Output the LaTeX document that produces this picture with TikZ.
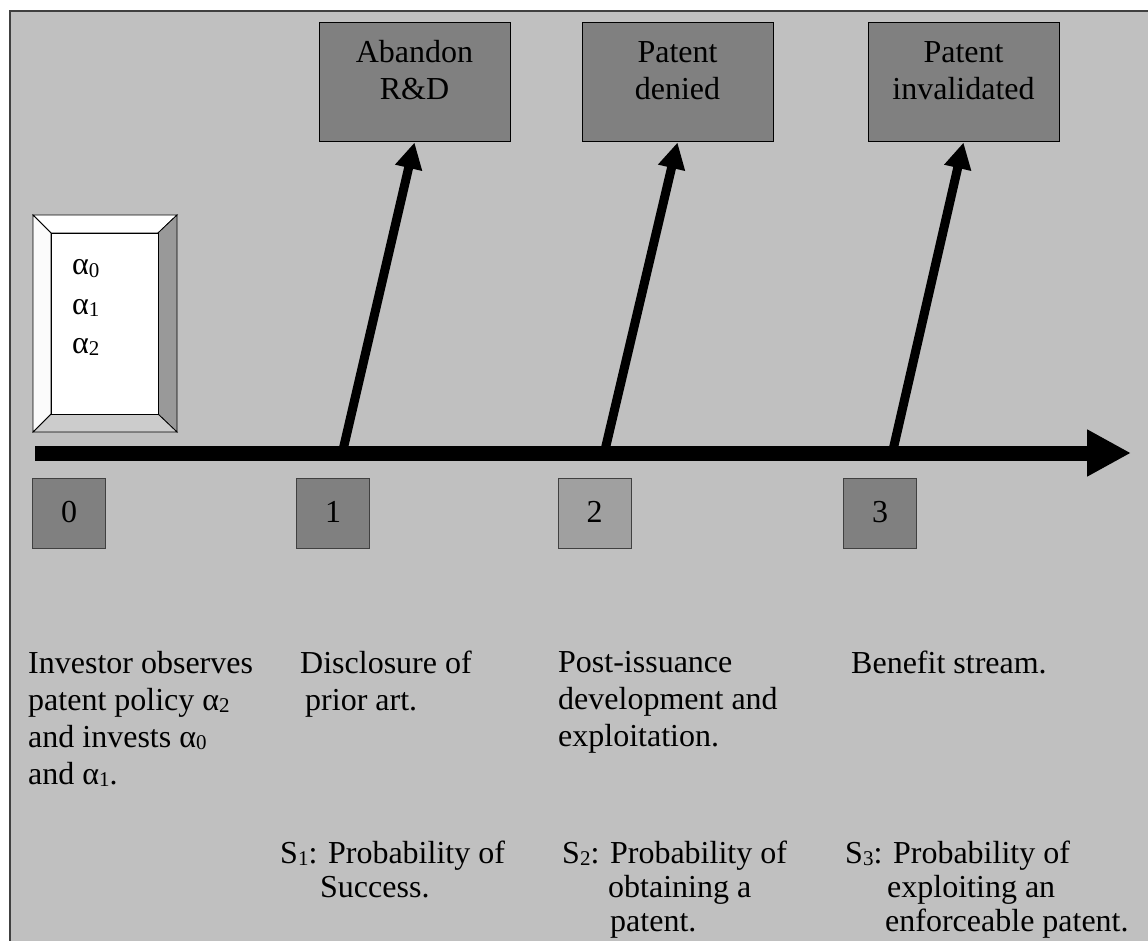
\documentclass[tikz,border=0pt]{standalone}
\usepackage{fontspec}
\setmainfont{Liberation Serif}
\usetikzlibrary{arrows.meta}
\definecolor{panelgray}{HTML}{C0C0C0}
\definecolor{boxgray}{HTML}{808080}
\definecolor{lightbox}{HTML}{A0A0A0}
\definecolor{edgegray}{HTML}{404040}
\definecolor{shadegray}{HTML}{999999}
\definecolor{floorgray}{HTML}{CCCCCC}
% small index digit sitting near the baseline
\newcommand{\subidx}[1]{\raisebox{-2pt}{\fontsize{21}{21}\selectfont #1}}

\begin{document}
\begin{tikzpicture}[x=1pt, y=-1pt,
  every node/.style={font=\fontsize{32}{37}\selectfont, inner sep=0pt},
  outcome/.style={draw=black, line width=1pt, fill=boxgray, minimum width=191pt, minimum height=119pt},
  stagebox/.style={draw=edgegray, line width=1pt, fill=boxgray, minimum width=73pt, minimum height=70pt, text depth=0.3em},
  desc/.style={anchor=north west, align=left},
  probtext/.style={desc, font=\fontsize{32}{34}\selectfont},
  branch/.style={line width=9pt, -{Triangle[width=26pt,length=26pt]}}]
\useasboundingbox (0,0) rectangle (1148,941);
\fill[white] (0,0) rectangle (1148,941);
\fill[panelgray] (10,11) rectangle (1148,941);
\draw[edgegray, line width=1.5pt] (10,941) -- (10,11) -- (1148,11);

% bevelled box with the alphas
\coordinate (o1) at (33,215);  \coordinate (o2) at (177,215);
\coordinate (o3) at (177,432); \coordinate (o4) at (33,432);
\coordinate (i1) at (51,233);  \coordinate (i2) at (158,233);
\coordinate (i3) at (158,414); \coordinate (i4) at (51,414);
\filldraw[fill=white, line width=0.8pt] (o1) -- (o2) -- (i2) -- (i1) -- cycle;
\filldraw[fill=shadegray, line width=0.8pt] (o2) -- (o3) -- (i3) -- (i2) -- cycle;
\filldraw[fill=floorgray, line width=0.8pt] (o4) -- (o3) -- (i3) -- (i4) -- cycle;
\filldraw[fill=white!97!gray, line width=0.8pt] (o1) -- (o4) -- (i4) -- (i1) -- cycle;
\filldraw[fill=white, line width=0.8pt] (i1) rectangle (i3);
\node[anchor=base west] (a0) at (72,275) {α\subidx{0}};
\node[anchor=base west] (a1) at (72,314) {α\subidx{1}};
\node[anchor=base west] (a2) at (72,353) {α\subidx{2}};

% outcomes at the top
\node[outcome] (abandon) at (414.5,82.5) {};
\node[outcome] (denied) at (677.5,82.5) {};
\node[outcome] (invalid) at (963.5,82.5) {};
\node[below=18pt, align=center] (abandontxt) at (abandon.north) {Abandon\\R\&D};
\node[below=19pt, align=center] (deniedtxt) at (denied.north) {Patent\\denied};
\node[below=19pt, align=center] (invalidtxt) at (invalid.north) {Patent\\invalidated};

% time line
\coordinate (axstart) at (35,453);
\coordinate (axend) at (1131,453);
\draw[line width=15pt, -{Triangle[width=44pt,length=44pt]}] (axstart) -- (axend);
\coordinate (foot1) at (343,450);
\coordinate (foot2) at (605,450);
\coordinate (foot3) at (893,450);
\draw[branch] (foot1) -- (abandon.south);
\draw[branch] (foot2) -- (denied.south);
\draw[branch] (foot3) -- (invalid.south);

% stages
\node[stagebox] (s0) at (69,513) {0};
\node[stagebox] (s1) at (333,513) {1};
\node[stagebox, fill=lightbox] (s2) at (594.5,513) {2};
\node[stagebox] (s3) at (880,513) {3};

% what happens at each stage
\node[desc] (investor) at (28,651) {Investor observes\\patent policy α\subidx{2}\\and invests α\subidx{0}\\and α\subidx{1}.};
\node[desc] (disclosure) at (300,651) {Disclosure of\\\hspace*{5pt}prior art.};
\node[desc] (postissue) at (558,651) {Post-issuance\\development and\\exploitation.};
\node[desc] (benefit) at (851,651) {Benefit stream.};
\node[probtext] (prob1) at (280,841) {S\subidx{1}: Probability of\\\hspace*{40pt}Success.};
\node[probtext] (prob2) at (562,841) {S\subidx{2}: Probability of\\\hspace*{46pt}obtaining a\\\hspace*{48pt}patent.};
\node[probtext] (prob3) at (845,841) {S\subidx{3}: Probability of\\\hspace*{42pt}exploiting an\\\hspace*{40pt}enforceable patent.};
\end{tikzpicture}
\end{document}
